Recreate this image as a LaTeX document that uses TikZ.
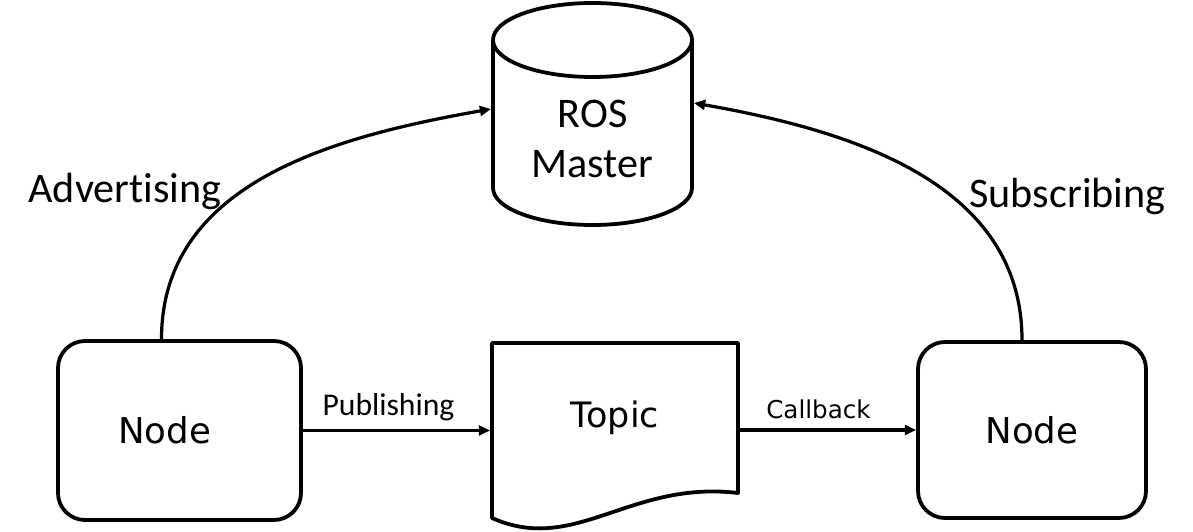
\documentclass[tikz,border=0pt]{standalone}
\usepackage{fontspec}
\setmainfont{Carlito}[Ligatures=NoCommon]
\newfontfamily\dejavu{DejaVu Sans}
\usepackage{tikz}
\usetikzlibrary{arrows.meta, positioning, calc}
\tikzset{
  bxN/.style={draw, rounded corners=0.675cm, minimum width=#1,
              line width=2.7pt, inner sep=0pt, align=center,
              font=\dejavu\fontsize{25.3}{30}\selectfont},
  bxT/.style={minimum width=#1, inner sep=0pt, outer sep=1.35pt,
              font=\dejavu\fontsize{24.9}{30}\selectfont},
  bxM/.style={minimum width=#1, inner sep=0pt, outer sep=1.35pt, align=center,
              font=\fontsize{30}{35.6}\selectfont},
  shp/.style={line width=2.7pt, line join=round},
  lblL/.style={anchor=base, inner sep=0pt, font=\fontsize{30}{36}\selectfont},
  lblS/.style={anchor=base, inner sep=0pt, font=\fontsize{22.5}{27}\selectfont},
  lblC/.style={anchor=base, inner sep=0pt, font=\dejavu\fontsize{17.5}{21}\selectfont},
  arr/.style={-{Triangle[length=8pt, width=7pt]}, line width=2.3pt},
}

\begin{document}
\begin{tikzpicture}
    \useasboundingbox (0,0) rectangle (29.825,13.275);

    % ROS master (cylinder)
    \draw[shp] (12.325,12.275) arc[start angle=180, end angle=0, x radius=2.4875, y radius=0.925]
                               arc[start angle=0, end angle=-180, x radius=2.4875, y radius=0.925]
                -- (12.325,8.575) arc[start angle=180, end angle=360, x radius=2.4875, y radius=0.925]
                -- (17.3,12.275);
    \node[bxM=4.975cm] (master) at (14.8125, 9.8) {ROS\\Master};

    % topic (document)
    \draw[shp] (12.3,4.7) -- (18.45,4.7) -- (18.45,0.95)
               .. controls (15.75,1.275) and (14.375,-0.6) .. (12.3,0.325) -- cycle;
    \node[bxT=6.15cm] (topic) at (15.375, 2.825) {Topic};

    % nodes
    \node[bxN=6.075cm, minimum height=4.475cm] (npub) at (4.4875, 2.5125) {Node\hspace*{0.75cm}};
    \node[bxN=5.7cm,   minimum height=4.4cm]   (nsub) at (25.8, 2.525)    {Node};

    \draw[arr] (npub) -- (npub -| topic.west);
    \draw[arr] (nsub -| topic.east) -- (nsub);
    \draw[arr] ([xshift=-0.45cm]npub.north) to[out=90, in=190] ([yshift=0.75cm]master.west);
    \draw[arr] ([xshift=-0.25cm]nsub.north) to[out=90, in=-10] ([yshift=0.9cm]master.east);

    % labels
    \node[lblL] (adv)  at (3.125, 8.2)     {Advertising};
    \node[lblL] (subs) at (26.6875, 8.075) {Subscribing};
    \node[lblS] (publ) at (9.7125, 2.9)    {Publishing};
    \node[lblC] (cb)   at (20.4625, 2.825) {Callback};
\end{tikzpicture}
\end{document}
